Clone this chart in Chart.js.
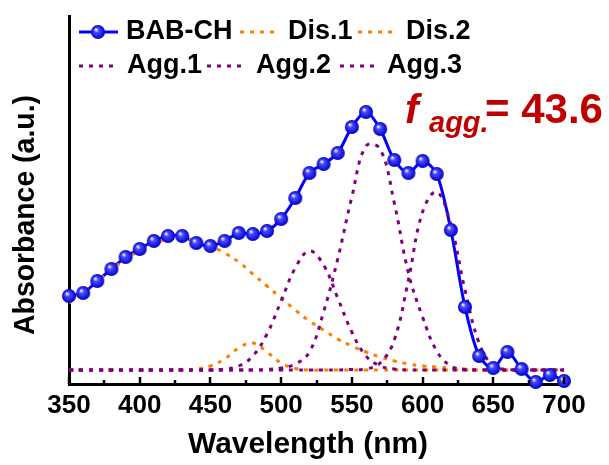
<!DOCTYPE html>
<html>
<head>
<meta charset="utf-8">
<script src="https://cdn.jsdelivr.net/npm/chart.js@4.4.1/dist/chart.umd.min.js"></script>
<style>
  html, body { margin: 0; padding: 0; background: #fff; }
</style>
</head>
<body>
<canvas id="absChart" width="609" height="465"></canvas>
<script>
// wavelength grid (nm), one value per 10 nm
const wavelengths = [350, 360, 370, 380, 390, 400, 410, 420, 430, 440, 450, 460,
  470, 480, 490, 500, 510, 520, 530, 540, 550, 560, 570, 580, 590, 600, 610, 620,
  630, 640, 650, 660, 670, 680, 690, 700];

const babCh = [0.74, 0.77, 0.89, 1.01, 1.13, 1.21, 1.29, 1.34, 1.34, 1.27, 1.24, 1.29,
  1.37, 1.36, 1.39, 1.51, 1.72, 1.97, 2.06, 2.17, 2.43, 2.58, 2.41, 2.10, 1.97, 2.09,
  1.96, 1.40, 0.63, 0.14, 0.02, 0.18, 0.01, -0.12, -0.05, -0.11];

const dis1 = [0.67, 0.78, 0.89, 1.00, 1.11, 1.19, 1.26, 1.31, 1.32, 1.29, 1.24, 1.17,
  1.08, 0.96, 0.84, 0.72, 0.60, 0.49, 0.40, 0.31, 0.24, 0.18, 0.13, 0.09, 0.06, 0.04,
  0.03, 0.02, 0.01, 0.005, 0, 0, 0, 0, 0, 0];

const dis2 = [0, 0, 0, 0, 0, 0, 0, 0, 0.005, 0.01, 0.04, 0.11,
  0.22, 0.27, 0.18, 0.07, 0.015, 0, 0, 0, 0, 0, 0, 0, 0, 0,
  0, 0, 0, 0, 0, 0, 0, 0, 0, 0];

const agg1 = [0, 0, 0, 0, 0, 0, 0, 0, 0, 0, 0, 0.01,
  0.04, 0.14, 0.36, 0.69, 1.02, 1.19, 1.05, 0.72, 0.38, 0.14, 0.04, 0.01, 0, 0,
  0, 0, 0, 0, 0, 0, 0, 0, 0, 0];

const agg2 = [0, 0, 0, 0, 0, 0, 0, 0, 0, 0, 0, 0,
  0, 0, 0.005, 0.02, 0.06, 0.18, 0.58, 1.11, 1.73, 2.24, 2.21, 1.67, 0.97, 0.53,
  0.19, 0.04, 0.005, 0, 0, 0, 0, 0, 0, 0];

const agg3 = [0, 0, 0, 0, 0, 0, 0, 0, 0, 0, 0, 0,
  0, 0, 0, 0, 0, 0, 0, 0, 0.005, 0.01, 0.07, 0.30, 0.90, 1.58,
  1.78, 1.45, 0.80, 0.27, 0.04, 0.005, 0, 0, 0, 0];

const xTicks = [350, 400, 450, 500, 550, 600, 650, 700];
const fAgg = "43.6";

const BLUE = "#0000ff";
const ORANGE = "#ff8000";
const PURPLE = "#800080";
const RED = "#c00000";
const FONT = "'Liberation Sans', Arial, sans-serif";

function pts(values) {
  return wavelengths.map((w, i) => ({ x: w, y: values[i] }));
}

// shiny blue ball marker
function makeBall(r) {
  const c = document.createElement("canvas");
  c.width = c.height = 2 * r + 2;
  const g = c.getContext("2d");
  const m = r + 1;
  const grad = g.createRadialGradient(m - r * 0.3, m - r * 0.35, 0.4, m, m, r);
  grad.addColorStop(0, "#eef0ff");
  grad.addColorStop(0.3, "#4a4aff");
  grad.addColorStop(1, "#0000c8");
  g.fillStyle = grad;
  g.beginPath();
  g.arc(m, m, r, 0, Math.PI * 2);
  g.fill();
  return c;
}
const ball = makeBall(7);

function dotted(label, values, color, order) {
  return {
    label: label,
    data: pts(values),
    borderColor: color,
    borderWidth: 3,
    borderDash: [4, 6],
    pointRadius: 0,
    tension: 0.4,
    fill: false,
    order: order,
  };
}

// inward tick marks on the x axis
const innerTicks = {
  id: "innerTicks",
  afterDraw(chart) {
    const ctx = chart.ctx;
    const xs = chart.scales.x;
    const y0 = xs.top;
    ctx.save();
    ctx.strokeStyle = "#000";
    ctx.lineWidth = 2.5;
    ctx.beginPath();
    for (let w = 350; w <= 700; w += 25) {
      const px = Math.round(xs.getPixelForValue(w));
      const len = w % 50 === 0 ? 7 : 4;
      ctx.moveTo(px, y0);
      ctx.lineTo(px, y0 - len);
    }
    ctx.stroke();
    ctx.restore();
  },
};

// text fitted to a given width
function fitText(ctx, text, cx, cy, size, width, rot) {
  ctx.save();
  ctx.translate(cx, cy);
  ctx.rotate(rot);
  ctx.font = "bold " + size + "px " + FONT;
  const w = ctx.measureText(text).width;
  ctx.scale(width / w, 1);
  ctx.textAlign = "center";
  ctx.textBaseline = "middle";
  ctx.fillText(text, 0, 0);
  ctx.restore();
}

// axis titles, legend inside the plot, f_agg annotation
const legendAndNote = {
  id: "legendAndNote",
  afterDraw(chart) {
    const ctx = chart.ctx;
    ctx.save();
    ctx.fillStyle = "#000";

    fitText(ctx, "Wavelength (nm)", 308, 445, 30, 240, 0);
    fitText(ctx, "Absorbance (a.u.)", 26, 215, 29, 240, -Math.PI / 2);

    ctx.font = "bold 27px " + FONT;
    ctx.textBaseline = "middle";

    function dash(x1, x2, y, color) {
      ctx.save();
      ctx.strokeStyle = color;
      ctx.lineWidth = 3;
      ctx.setLineDash([4, 6]);
      ctx.beginPath();
      ctx.moveTo(x1, y);
      ctx.lineTo(x2, y);
      ctx.stroke();
      ctx.restore();
    }

    // row 1
    const r1 = 32;
    ctx.save();
    ctx.strokeStyle = BLUE;
    ctx.lineWidth = 3;
    ctx.beginPath();
    ctx.moveTo(79, r1);
    ctx.lineTo(118, r1);
    ctx.stroke();
    ctx.restore();
    ctx.drawImage(ball, 98 - ball.width / 2, r1 - ball.height / 2);
    ctx.fillText("BAB-CH", 126, r1);
    dash(240, 276, r1, ORANGE);
    ctx.fillText("Dis.1", 288, r1);
    dash(358, 396, r1, ORANGE);
    ctx.fillText("Dis.2", 406, r1);

    // row 2
    const r2 = 66;
    dash(79, 115, r2, PURPLE);
    ctx.fillText("Agg.1", 127, r2);
    dash(207, 245, r2, PURPLE);
    ctx.fillText("Agg.2", 256, r2);
    dash(340, 378, r2, PURPLE);
    ctx.fillText("Agg.3", 387, r2);

    // f_agg. = 43.6
    ctx.fillStyle = RED;
    ctx.textBaseline = "alphabetic";
    ctx.font = "italic bold 41px " + FONT;
    ctx.fillText("f", 405, 123);
    ctx.font = "italic bold 29px " + FONT;
    ctx.fillText("agg.", 429, 132);
    ctx.font = "bold 42px " + FONT;
    ctx.fillText("= " + fAgg, 485, 123);
    ctx.restore();
  },
};

const ctx = document.getElementById("absChart");

new Chart(ctx, {
  type: "line",

  data: {
    datasets: [
      {
        label: "BAB-CH",
        data: pts(babCh),
        borderColor: BLUE,
        borderWidth: 3,
        pointRadius: 0,
        tension: 0.3,
        fill: false,
        order: 10,
      },
      dotted("Dis.1", dis1, ORANGE, 6),
      dotted("Dis.2", dis2, ORANGE, 5),
      dotted("Agg.1", agg1, PURPLE, 4),
      dotted("Agg.2", agg2, PURPLE, 3),
      dotted("Agg.3", agg3, PURPLE, 2),
      {
        label: "BAB-CH points",
        data: pts(babCh),
        showLine: false,
        pointStyle: ball,
        pointRadius: 7,
        clip: false,
        order: 0,
      },
    ],
  },

  options: {
    responsive: false,
    animation: false,
    devicePixelRatio: 1,
    layout: {
      padding: { top: 16, right: 45, left: 0, bottom: 0 },
    },
    plugins: {
      legend: { display: false },
      tooltip: { enabled: false },
    },
    scales: {
      x: {
        type: "linear",
        min: 350,
        max: 700,
        afterBuildTicks(scale) {
          scale.ticks = xTicks.map((v) => ({ value: v }));
        },
        afterFit(scale) {
          scale.height = 81;
        },
        grid: { display: false, drawTicks: false },
        border: { display: true, color: "#000", width: 3 },
        ticks: {
          color: "#000",
          padding: 6,
          font: { family: FONT, size: 26, weight: "bold" },
        },
      },
      y: {
        min: -0.14,
        max: 3.54,
        afterFit(scale) {
          scale.width = 69;
        },
        grid: { display: false, drawTicks: false },
        border: { display: true, color: "#000", width: 3 },
        ticks: { display: false },
      },
    },
  },
  plugins: [innerTicks, legendAndNote],
});
</script>
</body>
</html>
